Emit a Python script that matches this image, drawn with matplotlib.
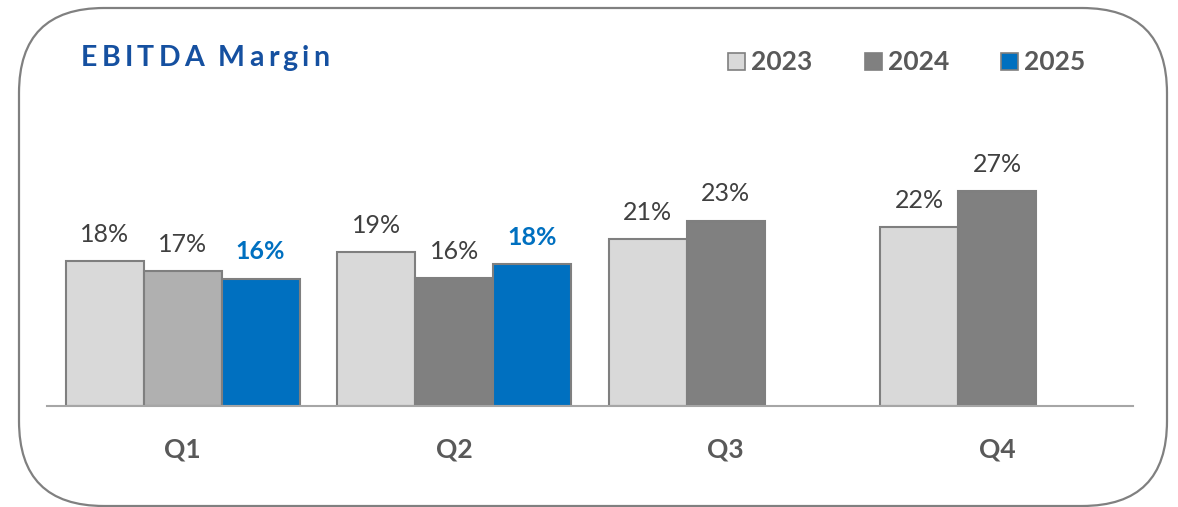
import numpy as np
import matplotlib.pyplot as plt
from matplotlib.patches import FancyBboxPatch, Rectangle

plt.rcParams['font.family'] = ['Lato', 'DejaVu Sans']

quarters = ['Q1', 'Q2', 'Q3', 'Q4']
years = ['2023', '2024', '2025']
margin_2023 = [18.0, 19.1, 20.7, 22.2]
margin_2024 = [16.7, 15.9, 23.0, 26.7]
margin_2025 = [15.8, 17.6, None, None]
title = 'EBITDA Margin'

W, H = 1178, 507
fig = plt.figure(figsize=(W / 100, H / 100), dpi=100)

# background axes in pixel coordinates for the rounded frame
bg = fig.add_axes([0, 0, 1, 1])
bg.set_xlim(0, W)
bg.set_ylim(H, 0)
bg.axis('off')
frame = FancyBboxPatch((19, 8), 1148, 498, boxstyle='round,pad=0,rounding_size=85',
                       fc='white', ec='#808080', lw=1.6)
bg.add_patch(frame)

ax = fig.add_axes([47 / W, (H - 406) / H, (1133 - 47) / W, (406 - 120) / H])
ax.set_xlim(-0.5, 3.5)
ax.set_ylim(0, 35.5)
ax.patch.set_alpha(0)
for s in ['top', 'right', 'left']:
    ax.spines[s].set_visible(False)
ax.spines['bottom'].set_color('#a6a6a6')
ax.spines['bottom'].set_linewidth(1.5)
ax.set_yticks([])
ax.set_xticks(range(4))
ax.set_xticklabels(quarters, fontsize=19, fontweight='bold', color='#595959')
ax.tick_params(axis='x', length=0, pad=23)

x = np.arange(4)
bw = 0.287
fills = ['#d9d9d9', '#808080', '#0070c0']
series = [margin_2023, margin_2024, margin_2025]
for i, vals in enumerate(series):
    for j, v in enumerate(vals):
        if v is None:
            continue
        c = fills[i]
        if i == 1 and j == 0:
            c = '#b0b0b0'
        xp = x[j] + (i - 1) * bw
        ax.bar(xp, v, bw, color=c, edgecolor='#7f7f7f', lw=1.5, zorder=2)
        if i == 2:
            ax.annotate(f'{v:.0f}%', (xp, v), xytext=(0, 11), textcoords='offset points',
                        ha='center', va='bottom', fontsize=18, fontweight='bold',
                        color='#0070c0')
        else:
            ax.annotate(f'{v:.0f}%', (xp, v), xytext=(0, 11), textcoords='offset points',
                        ha='center', va='bottom', fontsize=18, color='#404040')

# title, drawn letter by letter to get the wide tracking
fig.canvas.draw()
r = fig.canvas.get_renderer()
tx = 81
for ch in title:
    t = bg.text(tx, 58, ch, fontsize=20.5, fontweight='bold', color='#1550a0',
                ha='left', va='center')
    if ch == ' ':
        tx += 10
    else:
        tx += t.get_window_extent(r).width + 4.2

# legend
leg_x = [728, 865, 1001]
for i, yr in enumerate(years):
    bg.add_patch(Rectangle((leg_x[i], 53), 17, 17, fc=fills[i], ec='#7f7f7f', lw=1.2))
    bg.text(leg_x[i] + 23, 62, yr, fontsize=19, fontweight='bold', color='#595959',
            ha='left', va='center')

fig.savefig('out.png', dpi=100)
